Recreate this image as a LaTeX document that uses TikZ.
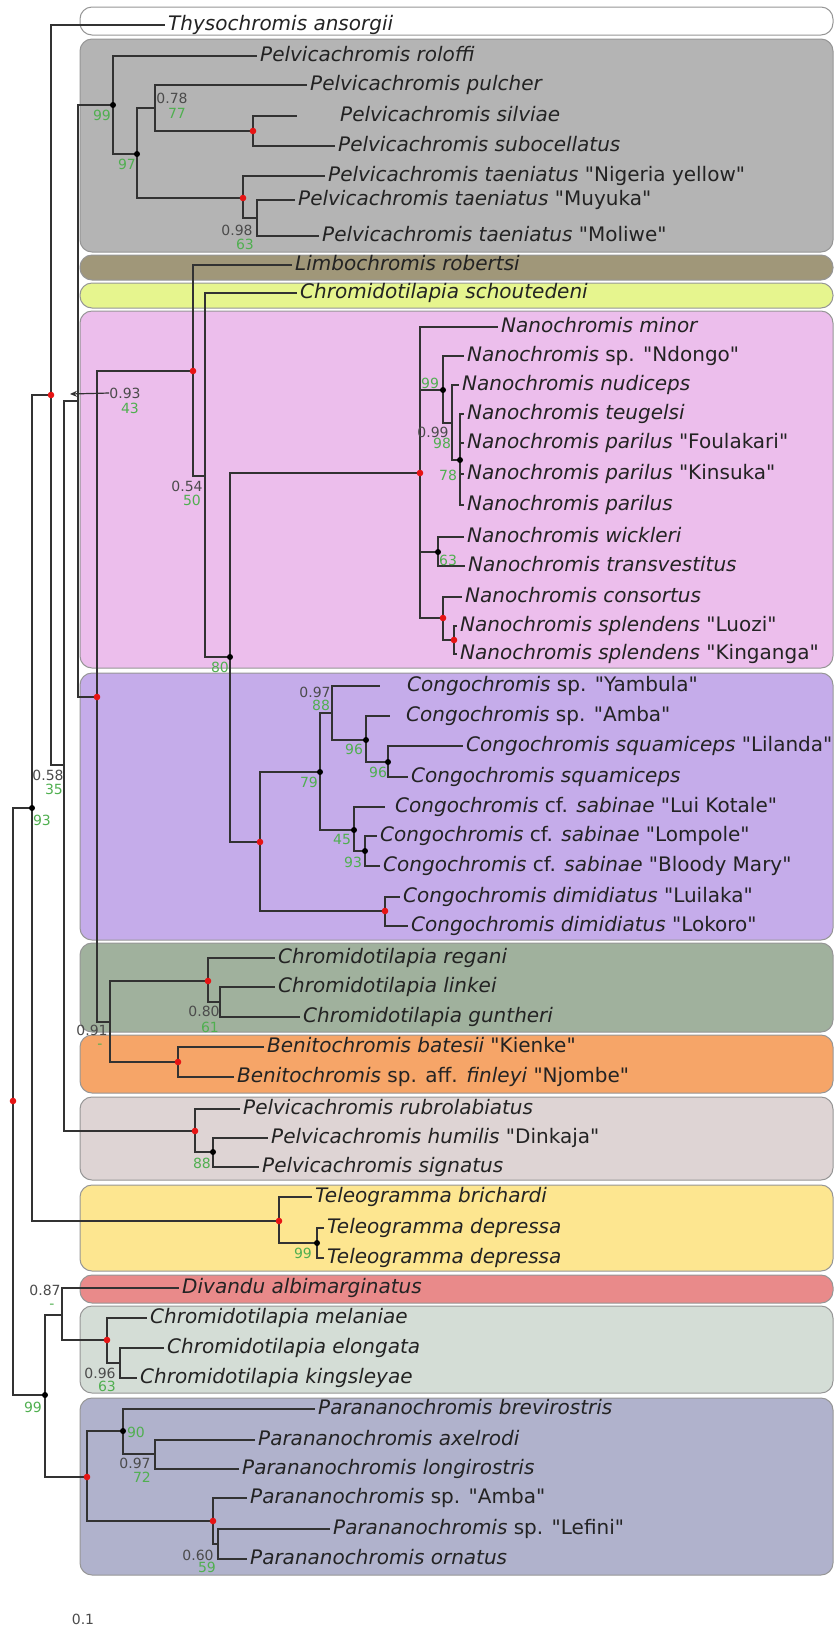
\documentclass[tikz,border=0pt]{standalone}
\usepackage{fontspec}
\setmainfont{DejaVu Sans}[ItalicFont={DejaVu Sans Oblique},Ligatures=TeXOff]
\usepackage{tikz}
\usetikzlibrary{arrows.meta}
\definecolor{EdgeColor}{RGB}{50,50,50}
\definecolor{TaxonText}{RGB}{35,35,35}
\definecolor{PostText}{RGB}{75,75,75}
\definecolor{BootGreen}{RGB}{80,175,80}
\definecolor{DotRed}{RGB}{230,20,20}
\definecolor{BoxBorder}{RGB}{150,150,150}
\definecolor{BoxWhite}{RGB}{255,255,255}
\definecolor{BoxGray}{RGB}{180,180,180}
\definecolor{BoxOlive}{RGB}{160,151,121}
\definecolor{BoxLime}{RGB}{230,245,142}
\definecolor{BoxPink}{RGB}{236,190,236}
\definecolor{BoxPurple}{RGB}{197,172,234}
\definecolor{BoxSage}{RGB}{160,177,157}
\definecolor{BoxOrange}{RGB}{246,165,104}
\definecolor{BoxRose}{RGB}{222,212,212}
\definecolor{BoxYellow}{RGB}{253,230,144}
\definecolor{BoxRed}{RGB}{233,138,138}
\definecolor{BoxMint}{RGB}{212,221,214}
\definecolor{BoxSlate}{RGB}{176,178,204}
\tikzset{
  % clade background
  cladebox/.style={
    draw=BoxBorder,
    line width=1pt,
    rounded corners=12pt
  },
  % tree branch
  branch/.style={
    draw=EdgeColor,
    line width=1.8pt
  },
  % taxon name at a tip
  taxon/.style={
    anchor=west,
    inner xsep=3pt,
    inner ysep=0pt,
    text height=14pt,
    text depth=4pt,
    font=\fontsize{20}{24}\selectfont,
    text=TaxonText
  },
  % posterior probability
  post/.style={
    inner sep=0pt,
    font=\fontsize{14}{16}\selectfont,
    text=PostText
  },
  % bootstrap value
  boot/.style={
    inner sep=0pt,
    font=\fontsize{14}{16}\selectfont,
    text=BootGreen
  }
}

\begin{document}
\begin{tikzpicture}[x=1pt,y=-1pt]
  \useasboundingbox (0,0) rectangle (835,1626);

  % clade boxes
  \draw[cladebox, fill=BoxWhite]  (80,7)    rectangle (833,35);
  \draw[cladebox, fill=BoxGray]   (80,39)   rectangle (833,252);
  \draw[cladebox, fill=BoxOlive]  (80,255)  rectangle (833,280);
  \draw[cladebox, fill=BoxLime]   (80,283)  rectangle (833,308);
  \draw[cladebox, fill=BoxPink]   (80,311)  rectangle (833,668);
  \draw[cladebox, fill=BoxPurple] (80,673)  rectangle (833,940);
  \draw[cladebox, fill=BoxSage]   (80,943)  rectangle (833,1032);
  \draw[cladebox, fill=BoxOrange] (80,1035) rectangle (833,1093);
  \draw[cladebox, fill=BoxRose]   (80,1097) rectangle (833,1180);
  \draw[cladebox, fill=BoxYellow] (80,1185) rectangle (833,1271);
  \draw[cladebox, fill=BoxRed]    (80,1275) rectangle (833,1303);
  \draw[cladebox, fill=BoxMint]   (80,1306) rectangle (833,1393);
  \draw[cladebox, fill=BoxSlate]  (80,1398) rectangle (833,1575);

  % internal nodes
  \coordinate (root)   at (13,1101);
  \coordinate (n93)    at (32,808);
  \coordinate (nB)     at (51,395);
  \coordinate (n58)    at (64,765);
  \coordinate (nD)     at (78,401);
  \coordinate (pel)    at (113,105);
  \coordinate (pel97)  at (137,154);
  \coordinate (pel78)  at (155,108);
  \coordinate (pelA)   at (253,131);
  \coordinate (pelB)   at (243,198);
  \coordinate (pel98)  at (257,218);
  \coordinate (nE)     at (97,697);
  \coordinate (nF)     at (193,371);
  \coordinate (n54)    at (205,476);
  \coordinate (n80)    at (230,657);
  \coordinate (nan)    at (420,473);
  \coordinate (nan99)  at (443,390);
  \coordinate (nan99b) at (452,423);
  \coordinate (nan78)  at (460,460);
  \coordinate (nan63)  at (438,552);
  \coordinate (nanA)   at (443,618);
  \coordinate (nanB)   at (454,640);
  \coordinate (con)    at (260,842);
  \coordinate (con79)  at (320,772);
  \coordinate (con97)  at (332,713);
  \coordinate (con96a) at (366,740);
  \coordinate (con96b) at (388,762);
  \coordinate (con45)  at (354,830);
  \coordinate (con93)  at (365,851);
  \coordinate (conA)   at (385,911);
  \coordinate (n91)    at (110,1022);
  \coordinate (chrA)   at (208,981);
  \coordinate (chr80)  at (220,1002);
  \coordinate (ben)    at (178,1062);
  \coordinate (pvA)    at (195,1131);
  \coordinate (pv88)   at (213,1152);
  \coordinate (tel)    at (279,1221);
  \coordinate (tel99)  at (317,1243);
  \coordinate (n99)    at (45,1395);
  \coordinate (n87)    at (62,1315);
  \coordinate (cmA)    at (107,1340);
  \coordinate (cm96)   at (120,1363);
  \coordinate (parA)   at (87,1477);
  \coordinate (par90)  at (123,1431);
  \coordinate (par97)  at (155,1454);
  \coordinate (parB)   at (213,1521);
  \coordinate (par60)  at (218,1544);

  % tips
  \node[taxon] (thy)  at (165,25)   {\textit{Thysochromis ansorgii}};
  \node[taxon] (rol)  at (257,56)   {\textit{Pelvicachromis roloffi}};
  \node[taxon] (pul)  at (307,85)   {\textit{Pelvicachromis pulcher}};
  \coordinate  (silE) at (297,116);
  \node[taxon] (sil)  at (337,116)  {\textit{Pelvicachromis silviae}};
  \node[taxon] (sub)  at (335,146)  {\textit{Pelvicachromis subocellatus}};
  \node[taxon] (tny)  at (325,176)  {\textit{Pelvicachromis taeniatus} "Nigeria yellow"};
  \node[taxon] (tmu)  at (295,200)  {\textit{Pelvicachromis taeniatus} "Muyuka"};
  \node[taxon] (tmo)  at (319,236)  {\textit{Pelvicachromis taeniatus} "Moliwe"};
  \node[taxon] (lim)  at (292,265)  {\textit{Limbochromis robertsi}};
  \node[taxon] (sch)  at (297,293)  {\textit{Chromidotilapia schoutedeni}};
  \node[taxon] (min)  at (498,327)  {\textit{Nanochromis minor}};
  \node[taxon] (ndo)  at (464,356)  {\textit{Nanochromis} sp. "Ndongo"};
  \node[taxon] (nud)  at (459,385)  {\textit{Nanochromis nudiceps}};
  \node[taxon] (teu)  at (464,414)  {\textit{Nanochromis teugelsi}};
  \node[taxon] (fou)  at (464,443)  {\textit{Nanochromis parilus} "Foulakari"};
  \node[taxon] (kin)  at (464,474)  {\textit{Nanochromis parilus} "Kinsuka"};
  \node[taxon] (par)  at (464,505)  {\textit{Nanochromis parilus}};
  \node[taxon] (wic)  at (464,537)  {\textit{Nanochromis wickleri}};
  \node[taxon] (tra)  at (465,566)  {\textit{Nanochromis transvestitus}};
  \node[taxon] (cons) at (462,597)  {\textit{Nanochromis consortus}};
  \node[taxon] (luo)  at (457,626)  {\textit{Nanochromis splendens} "Luozi"};
  \node[taxon] (kig)  at (457,654)  {\textit{Nanochromis splendens} "Kinganga"};
  \coordinate  (yamE) at (380,686);
  \node[taxon] (yam)  at (404,686)  {\textit{Congochromis} sp. "Yambula"};
  \coordinate  (ambE) at (390,716);
  \node[taxon] (amb)  at (403,716)  {\textit{Congochromis} sp. "Amba"};
  \node[taxon] (lil)  at (463,746)  {\textit{Congochromis squamiceps} "Lilanda"};
  \node[taxon] (squ)  at (408,777)  {\textit{Congochromis squamiceps}};
  \coordinate  (luiE) at (385,807);
  \node[taxon] (lui)  at (392,807)  {\textit{Congochromis} cf. \textit{sabinae} "Lui Kotale"};
  \node[taxon] (lom)  at (377,836)  {\textit{Congochromis} cf. \textit{sabinae} "Lompole"};
  \node[taxon] (blo)  at (380,866)  {\textit{Congochromis} cf. \textit{sabinae} "Bloody Mary"};
  \node[taxon] (lua)  at (400,897)  {\textit{Congochromis dimidiatus} "Luilaka"};
  \node[taxon] (lok)  at (408,926)  {\textit{Congochromis dimidiatus} "Lokoro"};
  \node[taxon] (reg)  at (275,958)  {\textit{Chromidotilapia regani}};
  \node[taxon] (lin)  at (275,987)  {\textit{Chromidotilapia linkei}};
  \node[taxon] (gun)  at (300,1017) {\textit{Chromidotilapia guntheri}};
  \node[taxon] (kie)  at (264,1047) {\textit{Benitochromis batesii} "Kienke"};
  \node[taxon] (njo)  at (234,1077) {\textit{Benitochromis} sp. aff. \textit{finleyi} "Njombe"};
  \node[taxon] (rub)  at (240,1109) {\textit{Pelvicachromis rubrolabiatus}};
  \node[taxon] (hum)  at (268,1138) {\textit{Pelvicachromis humilis} "Dinkaja"};
  \node[taxon] (sig)  at (259,1167) {\textit{Pelvicachromis signatus}};
  \node[taxon] (bri)  at (312,1197) {\textit{Teleogramma brichardi}};
  \node[taxon] (de1)  at (324,1228) {\textit{Teleogramma depressa}};
  \node[taxon] (de2)  at (324,1258) {\textit{Teleogramma depressa}};
  \node[taxon] (div)  at (179,1288) {\textit{Divandu albimarginatus}};
  \node[taxon] (mel)  at (147,1318) {\textit{Chromidotilapia melaniae}};
  \node[taxon] (elo)  at (164,1348) {\textit{Chromidotilapia elongata}};
  \node[taxon] (kgs)  at (137,1378) {\textit{Chromidotilapia kingsleyae}};
  \node[taxon] (bre)  at (315,1409) {\textit{Parananochromis brevirostris}};
  \node[taxon] (axe)  at (255,1440) {\textit{Parananochromis axelrodi}};
  \node[taxon] (lon)  at (239,1469) {\textit{Parananochromis longirostris}};
  \node[taxon] (pam)  at (247,1498) {\textit{Parananochromis} sp. "Amba"};
  \node[taxon] (lef)  at (330,1529) {\textit{Parananochromis} sp. "Lefini"};
  \node[taxon] (orn)  at (247,1559) {\textit{Parananochromis ornatus}};

  % branches
  \draw[branch] (root) |- (n93);  \draw[branch] (root) |- (n99);
  \draw[branch] (n93) |- (nB);    \draw[branch] (n93) |- (tel);
  \draw[branch] (nB) |- (thy);    \draw[branch] (nB) |- (n58);
  \draw[branch] (n58) |- (nD);    \draw[branch] (n58) |- (pvA);
  \draw[branch] (nD) |- (pel);    \draw[branch] (nD) |- (nE);
  \draw[branch] (pel) |- (rol);   \draw[branch] (pel) |- (pel97);
  \draw[branch] (pel97) |- (pel78); \draw[branch] (pel97) |- (pelB);
  \draw[branch] (pel78) |- (pul); \draw[branch] (pel78) |- (pelA);
  \draw[branch] (pelA) |- (silE); \draw[branch] (pelA) |- (sub);
  \draw[branch] (pelB) |- (tny);  \draw[branch] (pelB) |- (pel98);
  \draw[branch] (pel98) |- (tmu); \draw[branch] (pel98) |- (tmo);
  \draw[branch] (nE) |- (nF);     \draw[branch] (nE) |- (n91);
  \draw[branch] (nF) |- (lim);    \draw[branch] (nF) |- (n54);
  \draw[branch] (n54) |- (sch);   \draw[branch] (n54) |- (n80);
  \draw[branch] (n80) |- (nan);   \draw[branch] (n80) |- (con);
  \draw[branch] (nan) |- (min);   \draw[branch] (nan) |- (nan99);
  \draw[branch] (nan) |- (nan63); \draw[branch] (nan) |- (nanA);
  \draw[branch] (nan99) |- (ndo); \draw[branch] (nan99) |- (nan99b);
  \draw[branch] (nan99b) |- (nud); \draw[branch] (nan99b) |- (nan78);
  \draw[branch] (nan78) |- (teu); \draw[branch] (nan78) |- (fou);
  \draw[branch] (nan78) |- (kin); \draw[branch] (nan78) |- (par);
  \draw[branch] (nan63) |- (wic); \draw[branch] (nan63) |- (tra);
  \draw[branch] (nanA) |- (cons); \draw[branch] (nanA) |- (nanB);
  \draw[branch] (nanB) |- (luo);  \draw[branch] (nanB) |- (kig);
  \draw[branch] (con) |- (con79); \draw[branch] (con) |- (conA);
  \draw[branch] (con79) |- (con97); \draw[branch] (con79) |- (con45);
  \draw[branch] (con97) |- (yamE); \draw[branch] (con97) |- (con96a);
  \draw[branch] (con96a) |- (ambE); \draw[branch] (con96a) |- (con96b);
  \draw[branch] (con96b) |- (lil); \draw[branch] (con96b) |- (squ);
  \draw[branch] (con45) |- (luiE); \draw[branch] (con45) |- (con93);
  \draw[branch] (con93) |- (lom); \draw[branch] (con93) |- (blo);
  \draw[branch] (conA) |- (lua);  \draw[branch] (conA) |- (lok);
  \draw[branch] (n91) |- (chrA);  \draw[branch] (n91) |- (ben);
  \draw[branch] (chrA) |- (reg);  \draw[branch] (chrA) |- (chr80);
  \draw[branch] (chr80) |- (lin); \draw[branch] (chr80) |- (gun);
  \draw[branch] (ben) |- (kie);   \draw[branch] (ben) |- (njo);
  \draw[branch] (pvA) |- (rub);   \draw[branch] (pvA) |- (pv88);
  \draw[branch] (pv88) |- (hum);  \draw[branch] (pv88) |- (sig);
  \draw[branch] (tel) |- (bri);   \draw[branch] (tel) |- (tel99);
  \draw[branch] (tel99) |- (de1); \draw[branch] (tel99) |- (de2);
  \draw[branch] (n99) |- (n87);   \draw[branch] (n99) |- (parA);
  \draw[branch] (n87) |- (div);   \draw[branch] (n87) |- (cmA);
  \draw[branch] (cmA) |- (mel);   \draw[branch] (cmA) |- (cm96);
  \draw[branch] (cm96) |- (elo);  \draw[branch] (cm96) |- (kgs);
  \draw[branch] (parA) |- (par90); \draw[branch] (parA) |- (parB);
  \draw[branch] (par90) |- (bre); \draw[branch] (par90) |- (par97);
  \draw[branch] (par97) |- (axe); \draw[branch] (par97) |- (lon);
  \draw[branch] (parB) |- (pam);  \draw[branch] (parB) |- (par60);
  \draw[branch] (par60) |- (lef); \draw[branch] (par60) |- (orn);

  % node dots
  \foreach \n in {root,nB,pelA,pelB,nE,nF,nan,nanA,nanB,con,conA,chrA,ben,pvA,tel,cmA,parA,parB}
    \fill[DotRed] (\n) circle (3.3);
  \foreach \n in {n93,pel,pel97,n80,nan99,nan78,nan63,con79,con96a,con96b,con45,con93,pv88,tel99,n99,par90}
    \fill[black] (\n) circle (3);

  % support values
  \node[post] (l078) at (172,98)  {0.78};  \node[boot] at (177,113) {77};
  \node[boot] at (102,115) {99};
  \node[boot] at (127,164) {97};
  \node[post] at (237,230) {0.98};         \node[boot] at (245,244) {63};
  \node[post] (l093) at (125,393) {0.93};  \node[boot] at (130,408) {43};
  \coordinate (arr) at (70,394);
  \draw[branch, line width=1.2pt, -{Stealth[length=7pt,width=6pt]}] (l093.west) -- (arr);
  \node[post] at (187,486) {0.54};         \node[boot] at (192,500) {50};
  \node[boot] at (220,667) {80};
  \node[post] at (48,775)  {0.58};         \node[boot] at (54,789)  {35};
  \node[boot] at (42,820)  {93};
  \node[boot] at (430,383) {99};
  \node[post] at (433,432) {0.99};         \node[boot] at (442,443) {98};
  \node[boot] at (448,475) {78};
  \node[boot] at (448,560) {63};
  \node[post] at (315,692) {0.97};         \node[boot] at (321,705) {88};
  \node[boot] at (354,749) {96};
  \node[boot] at (378,772) {96};
  \node[boot] at (309,782) {79};
  \node[boot] at (342,839) {45};
  \node[boot] at (353,862) {93};
  \node[post] at (204,1011) {0.80};        \node[boot] at (210,1027) {61};
  \node[post] at (92,1030)  {0.91};        \node[boot] at (100,1046) {-};
  \node[boot] at (202,1163) {88};
  \node[boot] at (303,1253) {99};
  \node[post] at (45,1290)  {0.87};        \node[boot] at (52,1306)  {-};
  \node[post] at (100,1373) {0.96};        \node[boot] at (107,1386) {63};
  \node[boot] at (33,1407)  {99};
  \node[boot] at (136,1432) {90};
  \node[post] at (135,1463) {0.97};        \node[boot] at (142,1477) {72};
  \node[post] at (198,1555) {0.60};        \node[boot] at (207,1567) {59};

  % scale
  \node[post] (scale) at (83,1619) {0.1};
\end{tikzpicture}
\end{document}
